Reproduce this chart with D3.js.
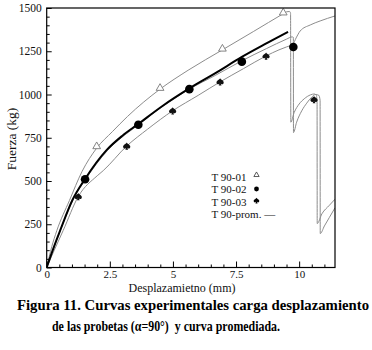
<!DOCTYPE html>
<html>
<head>
<meta charset="utf-8">
<script src="https://cdn.jsdelivr.net/npm/d3@7"></script>
<style>
  body { margin: 0; background: #fff; }
  svg { display: block; }
  svg text { font-family: 'Liberation Serif', 'Times New Roman', serif; }
</style>
</head>
<body>
<svg width="372" height="350" viewBox="0 0 372 350"></svg>
<script>
// tick values
const xTicks = [0, 2.5, 5, 7.5, 10]
const yTicks = [0, 250, 500, 750, 1000, 1250, 1500]

// T 90-01 (triangulos)
const t01X = [0, 0.2, 0.4, 0.9, 1.4, 1.98, 2.6, 3.2, 4.49, 5.6, 6.96, 8.2, 9.37, 9.5, 9.62, 9.66, 9.67, 9.8, 10.0, 10.2, 10.45, 10.6, 10.68, 10.71, 10.715, 10.9, 11.2, 11.42]
const t01Y = [0, 120, 213, 387, 555, 690, 785, 873, 1031, 1140, 1258, 1365, 1467, 1478, 1480, 1470, 840, 895, 945, 975, 998, 1003, 995, 960, 254, 310, 360, 395]

// T 90-02 (circulos)
const t02X = [0, 0.25, 0.53, 1.02, 1.52, 2.4, 3.63, 4.6, 5.65, 6.7, 7.73, 8.7, 9.5, 9.72, 9.77, 9.775, 9.9, 10.1, 10.3, 10.5, 10.65, 10.78, 10.83, 10.835, 11.0, 11.2, 11.42]
const t02Y = [0, 100, 210, 385, 505, 675, 825, 932, 1031, 1112, 1195, 1265, 1320, 1333, 1330, 780, 840, 905, 950, 985, 1000, 995, 965, 196, 240, 290, 345]

// T 90-03 (picas)
const t03X = [0, 0.3, 0.65, 1.25, 2.0, 2.24, 3.17, 4.0, 4.99, 6.0, 6.87, 7.8, 8.69, 9.2, 9.5, 9.75, 9.88, 10.04, 10.44, 10.83, 11.42]
const t03Y = [0, 100, 213, 410, 530, 560, 702, 800, 906, 995, 1073, 1150, 1223, 1258, 1275, 1290, 1327, 1367, 1402, 1425, 1454]

// T 90-prom.
const promX = [0, 0.25, 0.53, 1.02, 1.52, 2.38, 3.0, 3.63, 4.6, 5.65, 6.7, 7.73, 8.7, 9.56]
const promY = [0, 105, 213, 390, 512, 680, 762, 830, 935, 1035, 1125, 1217, 1295, 1362]

// marcadores
const triX = [1.98, 4.49, 6.96, 9.37]
const triY = [694, 1031, 1258, 1467]
const circX = [1.52, 3.63, 5.65, 7.73, 9.77]
const circY = [510, 825, 1031, 1190, 1275]
const spadeX = [1.25, 3.17, 4.99, 6.87, 8.69, 10.59]
const spadeY = [410, 702, 906, 1073, 1223, 971]

const legendLabels = ['T 90-01', 'T 90-02', 'T 90-03', 'T 90-prom. \u2014']

const svg = d3.select('svg')
const pLeft = 46.7
const pRight = 335
const pTop = 8
const pBottom = 267.5
const serif = "'Liberation Serif', 'Times New Roman', serif"

const x = d3.scaleLinear().domain([0, 11.42]).range([pLeft, pRight])
const y = d3.scaleLinear().domain([0, 1500]).range([pBottom, pTop])

const zip = (xs, ys) => xs.map((v, i) => [v, ys[i]])

const symbolSpade = {
  draw (ctx, size) {
    const r = Math.sqrt(size) / 2
    ctx.moveTo(0, -r)
    ctx.bezierCurveTo(r * 0.3, -r * 0.5, r * 1.3, -r * 0.2, r * 0.95, r * 0.45)
    ctx.bezierCurveTo(r * 0.7, r * 0.85, r * 0.25, r * 0.7, r * 0.12, r * 0.4)
    ctx.lineTo(r * 0.4, r * 1.05)
    ctx.lineTo(-r * 0.4, r * 1.05)
    ctx.lineTo(-r * 0.12, r * 0.4)
    ctx.bezierCurveTo(-r * 0.25, r * 0.7, -r * 0.7, r * 0.85, -r * 0.95, r * 0.45)
    ctx.bezierCurveTo(-r * 1.3, -r * 0.2, -r * 0.3, -r * 0.5, 0, -r)
    ctx.closePath()
  }
}

svg.append('clipPath').attr('id', 'plot')
  .append('rect')
  .attr('x', pLeft).attr('y', pTop)
  .attr('width', pRight - pLeft).attr('height', pBottom - pTop)

// curves
const line = d3.line()
  .x(d => x(d[0]))
  .y(d => y(d[1]))
  .curve(d3.curveMonotoneX)

const curves = svg.append('g').attr('clip-path', 'url(#plot)')
;[zip(t01X, t01Y), zip(t02X, t02Y), zip(t03X, t03Y)].forEach(c => {
  curves.append('path')
    .attr('d', line(c))
    .attr('fill', 'none')
    .attr('stroke', '#8c8c8c')
    .attr('stroke-width', 1)
})
curves.append('path')
  .attr('d', line(zip(promX, promY)))
  .attr('fill', 'none')
  .attr('stroke', '#000')
  .attr('stroke-width', 2)

// markers
svg.append('g').selectAll('path')
  .data(zip(triX, triY))
  .join('path')
  .attr('transform', d => `translate(${x(d[0])},${y(d[1]) - 1})`)
  .attr('d', d3.symbol(d3.symbolTriangle, 26))
  .attr('fill', '#fff')
  .attr('stroke', '#777')
  .attr('stroke-width', 0.9)

svg.append('g').selectAll('circle')
  .data(zip(circX, circY))
  .join('circle')
  .attr('cx', d => x(d[0]))
  .attr('cy', d => y(d[1]))
  .attr('r', 4.3)
  .attr('fill', '#000')

svg.append('g').selectAll('path')
  .data(zip(spadeX, spadeY))
  .join('path')
  .attr('transform', d => `translate(${x(d[0])},${y(d[1])})`)
  .attr('d', d3.symbol(symbolSpade, 50))
  .attr('fill', '#111')

// frame
svg.append('rect')
  .attr('x', pLeft).attr('y', pTop)
  .attr('width', pRight - pLeft).attr('height', pBottom - pTop)
  .attr('fill', 'none')
  .attr('stroke', '#000')
  .attr('stroke-width', 1.2)

// axes, ticks inward
const xMinor = d3.range(0, 11.42, 0.5).filter(v => !xTicks.includes(v))
const yMinor = d3.range(0, 1501, 50).filter(v => !yTicks.includes(v))

const styleAxis = g => {
  g.attr('font-family', null)
  g.select('.domain').remove()
  g.selectAll('line').attr('stroke', '#000')
  g.selectAll('text')
    .style('font-family', serif)
    .style('font-size', '11px')
    .attr('fill', '#111')
}

svg.append('g')
  .attr('transform', `translate(0,${pBottom})`)
  .call(d3.axisBottom(x).tickValues(xTicks).tickSize(-6).tickPadding(2.7).tickFormat(d3.format('')))
  .call(styleAxis)
svg.append('g')
  .attr('transform', `translate(0,${pBottom})`)
  .call(d3.axisBottom(x).tickValues(xMinor).tickSize(-3).tickFormat(''))
  .call(styleAxis)

svg.append('g')
  .attr('transform', `translate(${pLeft},0)`)
  .call(d3.axisLeft(y).tickValues(yTicks).tickSize(-5).tickPadding(5).tickFormat(d3.format('')))
  .call(styleAxis)
  .call(g => g.selectAll('text').style('font-size', '11.5px'))
svg.append('g')
  .attr('transform', `translate(${pLeft},0)`)
  .call(d3.axisLeft(y).tickValues(yMinor).tickSize(-3).tickFormat(''))
  .call(styleAxis)

// axis titles
svg.append('text')
  .attr('x', 182).attr('y', 291.5)
  .attr('text-anchor', 'middle')
  .style('font-size', '12px')
  .attr('fill', '#111')
  .text('Desplazamietno (mm)')

svg.append('text')
  .attr('transform', 'translate(16,139) rotate(-90)')
  .attr('text-anchor', 'middle')
  .style('font-size', '13.5px')
  .attr('fill', '#111')
  .text('Fuerza (kg)')

// legend
const legend = svg.append('g').attr('fill', '#111')
legendLabels.forEach((lab, i) => {
  legend.append('text')
    .attr('x', 211.5)
    .attr('y', 181 + i * 12.3)
    .style('font-size', '11px')
    .text(lab)
})
legend.append('path')
  .attr('transform', 'translate(256.5,175)')
  .attr('d', d3.symbol(d3.symbolTriangle, 12))
  .attr('fill', 'none')
  .attr('stroke', '#333')
  .attr('stroke-width', 0.8)
legend.append('circle')
  .attr('cx', 256.5).attr('cy', 189)
  .attr('r', 2.4)
  .attr('fill', '#000')
legend.append('path')
  .attr('transform', 'translate(256.5,200.5)')
  .attr('d', d3.symbol(symbolSpade, 30))
  .attr('fill', '#000')

// caption
svg.append('text')
  .attr('x', 17).attr('y', 310)
  .style('font-size', '14.5px')
  .attr('font-weight', 'bold')
  .attr('fill', '#000')
  .attr('textLength', 352)
  .attr('lengthAdjust', 'spacingAndGlyphs')
  .text('Figura 11. Curvas experimentales carga desplazamiento')

svg.append('text')
  .attr('x', 52).attr('y', 331)
  .style('font-size', '14px')
  .attr('font-weight', 'bold')
  .attr('fill', '#000')
  .attr('textLength', 228)
  .attr('lengthAdjust', 'spacingAndGlyphs')
  .text('de las probetas (\u03b1=90\u00b0)\u00a0\u00a0y curva promediada.')
</script>
</body>
</html>
